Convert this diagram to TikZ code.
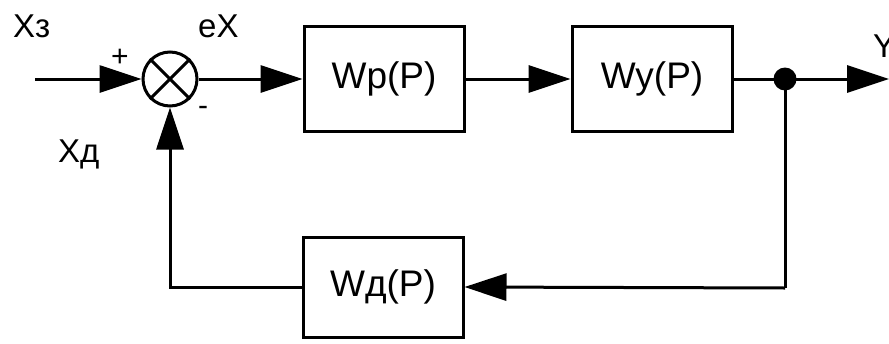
\documentclass[tikz,border=0pt]{standalone}
\usepackage{fontspec}
\setmainfont{Liberation Sans}
\usetikzlibrary{arrows.meta}
\begin{document}
\begin{tikzpicture}[x=1pt,y=-1pt,
  wire/.style={line width=3pt},
  arr/.style={wire,-{Triangle[length=42pt,width=27pt]}},
  blockbox/.style={draw,line width=3pt,rectangle,minimum width=160pt,minimum height=105pt,inner sep=0pt,font=\fontsize{37}{44}\selectfont},
  lbl/.style={inner sep=0pt,font=\fontsize{33}{40}\selectfont},
  sgn/.style={inner sep=0pt,font=\fontsize{30}{36}\selectfont}]
\useasboundingbox (0,0) rectangle (889,343);
\clip (0,0) rectangle (889,343);
\fill[white] (0,0) rectangle (889,343);
% nodes
\node[draw,circle,line width=3pt,minimum size=54pt,inner sep=0pt] (sum) at (170,79) {};
\draw[line width=3pt] (sum.45) -- (sum.225) (sum.135) -- (sum.315);
\node[blockbox] (wp) at (384,79) {Wp(P)};
\node[blockbox] (wy) at (652,79) {Wy(P)};
\node[blockbox,minimum height=100pt] (wd) at (383,287) {Wд(P)};
\node[circle,fill,inner sep=0pt,minimum size=23pt] (dot) at (785,79) {};
\coordinate (in) at (35,79);
\coordinate (out) at (889,79);
\coordinate (corner) at (785,288);
% labels
\node[lbl,anchor=base west] (lxz) at (13,37) {Xз};
\node[lbl,anchor=base west] (lex) at (198,37) {eX};
\node[lbl,anchor=base west] (lxd) at (58,162) {Xд};
\node[lbl,anchor=base west] (ly) at (873,57) {Y};
\node[sgn] (plus) at (120,58) {+};
\node[sgn] (minus) at (203,111) {-};
% connectors
\draw[arr] (in) -- (sum.west);
\draw[arr] (sum.east) -- (wp.west);
\draw[arr] (wp.east) -- (wy.west);
\draw[wire] (wy.east) -- (dot.center);
\draw[arr] (dot.center) -- (out);
\draw[wire] (dot.center) -- (corner);
\draw[arr] (corner) -- (wd.east);
\draw[arr] (wd.west) -| (sum.south);
\end{tikzpicture}
\end{document}
